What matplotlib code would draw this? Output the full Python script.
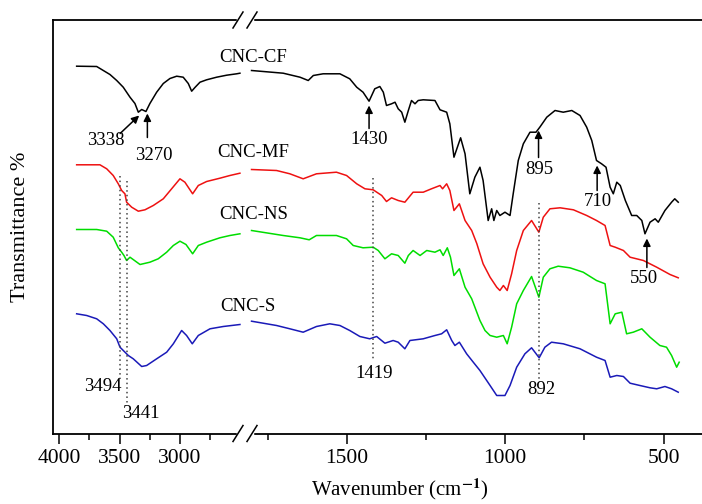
import numpy as np
import matplotlib
matplotlib.use('Agg')
import matplotlib.pyplot as plt

plt.rcParams['font.family'] = ['Liberation Serif', 'DejaVu Serif']
plt.rcParams['mathtext.fontset'] = 'stix'

# ---- spectra (wavenumber, offset transmittance in arbitrary units) ----
cf_wn_hi = [3856, 3690, 3635, 3580, 3524, 3470, 3414, 3373, 3345, 3317, 3282, 3249, 3193,
            3138, 3083, 3027, 2973, 2931, 2903, 2876, 2834, 2779, 2696, 2613, 2530, 2503]
cf_t_hi = [367.3, 367, 363, 359, 353, 346.3, 336.3, 330, 321.3, 324, 322, 330, 341.3,
           350, 355, 357.3, 356.3, 350, 342.3, 346, 351.3, 353.7, 356.3, 358.3, 359.7, 360.3]
cf_wn_lo = [1801, 1701, 1648, 1622, 1606, 1575, 1522, 1491, 1469, 1449, 1430, 1412, 1396,
            1385, 1375, 1359, 1348, 1338, 1327, 1317, 1306, 1296, 1285, 1275, 1259, 1222,
            1206, 1185, 1175, 1162, 1141, 1127, 1112, 1096, 1080, 1070, 1054, 1043, 1036,
            1027, 1017, 1001, 985, 975, 959, 943, 922, 903, 891, 869, 843, 817, 790, 764,
            743, 727, 712, 696, 682, 669, 659, 648, 637, 621, 601, 585, 569, 559, 543, 527,
            517, 496, 475, 465, 454]
cf_t_lo = [363, 360.3, 356.3, 353, 358, 359.7, 359.7, 354.7, 346.3, 341.3, 332.3, 344.7, 347,
           341.3, 328, 329.7, 331.3, 324.7, 321.3, 311.3, 323, 333, 329.7, 333, 333.7, 333,
           323.7, 321.3, 309.7, 276.3, 295.7, 279.7, 239.7, 256.3, 266.3, 253, 213, 224.7, 213,
           223, 218, 221.3, 218, 239.7, 273, 289.7, 301.3, 301.3, 306.3, 316.3, 323, 321.3, 323, 318,
           306.3, 293, 273, 269.7, 266.3, 246.3, 239.7, 251.3, 248, 233, 218, 218, 213, 199.7, 211.3, 214.7,
           211.3, 223, 231.3, 234.7, 231.3]

mf_wn_hi = [3856, 3663, 3607, 3553, 3511, 3483, 3456, 3442, 3400, 3345, 3290, 3221, 3138,
            3069, 3000, 2959, 2895, 2848, 2779, 2669, 2586, 2503]
mf_t_hi = [268.7, 268.7, 264.7, 258, 249.7, 243, 239.7, 231.3, 226.3, 222.3, 223.7, 228, 234.7,
           244.7, 254.7, 251.3, 239.7, 248, 252, 255.3, 258, 260.3]
mf_wn_lo = [1801, 1722, 1680, 1638, 1596, 1533, 1501, 1469, 1443, 1417, 1390, 1375, 1359, 1338,
            1317, 1291, 1259, 1233, 1206, 1198, 1185, 1175, 1162, 1145, 1127, 1106, 1090, 1070,
            1048, 1027, 1017, 1006, 994, 980, 964, 943, 917, 894, 880, 859, 827, 785, 743, 712,
            685, 669, 653, 627, 606, 564, 522, 480, 454]
mf_t_lo = [264, 263, 259.7, 254.7, 259.7, 261.3, 258, 249.7, 244.7, 243.7, 238, 232, 235.7, 233,
           231.3, 241.3, 241.3, 244.7, 248, 244.7, 249.7, 243, 223, 229.7, 213, 203, 190, 169.7,
           156.3, 146.3, 143, 148, 143, 159.7, 183, 203, 213, 201.3, 216.3, 224.7, 225.7, 223.7, 218, 213,
           208, 188, 186.3, 183, 176.3, 173, 166.3, 159, 155.7]

ns_wn_hi = [3856, 3690, 3607, 3553, 3511, 3483, 3464, 3442, 3414, 3331, 3249, 3180, 3110,
            3055, 3000, 2950, 2895, 2848, 2779, 2669, 2586, 2503]
ns_t_hi = [204, 204, 202.3, 196.3, 185.7, 181.3, 178, 173, 176.3, 169, 171.3, 174.7, 181.3,
           188, 192.3, 189, 179.7, 188, 191.3, 195.7, 198, 199.7]
ns_wn_lo = [1801, 1701, 1648, 1619, 1596, 1533, 1501, 1480, 1449, 1417, 1401, 1380, 1359, 1338,
            1317, 1306, 1291, 1269, 1248, 1222, 1206, 1196, 1183, 1173, 1162, 1145, 1127, 1106,
            1080, 1064, 1048, 1027, 1006, 994, 980, 964, 943, 917, 894, 880, 859, 833, 796, 754,
            712, 685, 669, 653, 632, 617, 596, 569, 543, 512, 491, 475, 459, 451]
ns_t_lo = [203, 198, 195.7, 193.7, 198, 198, 194.7, 188, 185.7, 186.3, 183, 174.7, 179.7, 178,
           170.3, 178, 183, 178, 183, 181.3, 183.7, 178, 185.7, 176.3, 158, 164.7, 146.3, 134.7,
           113, 103, 98, 96.3, 98, 89.7, 106.3, 129.7, 143, 157, 136.3, 156.3, 164.7, 167.3, 165.7, 161.3,
           153, 149.7, 109.7, 119.7, 121.3, 99.7, 101.3, 104.7, 96.3, 88, 86.3, 78, 66.3, 71.3]

s_wn_hi = [3856, 3773, 3690, 3635, 3580, 3524, 3497, 3428, 3387, 3317, 3276, 3193, 3110,
           3055, 2986, 2945, 2898, 2848, 2751, 2641, 2503]
s_t_hi = [119.7, 118, 114.7, 109.7, 103, 94.7, 86.3, 78, 74.7, 67, 68, 74.7, 81.3,
          89.7, 103, 98, 89.7, 98, 104.7, 107, 109]
s_wn_lo = [1801, 1722, 1680, 1638, 1596, 1554, 1522, 1491, 1459, 1428, 1406, 1380, 1354, 1338,
           1317, 1301, 1259, 1222, 1201, 1185, 1169, 1159, 1145, 1122, 1101, 1080, 1048, 1027,
           1001, 985, 964, 938, 917, 893, 875, 854, 817, 764, 712, 685, 669, 648, 627, 606,
           575, 543, 522, 496, 475, 454]
s_t_lo = [112.3, 108, 104.7, 101.3, 107, 109.7, 108, 103, 97, 94.7, 97, 90.3, 93, 91.3,
          84.7, 93, 94.7, 98, 99.7, 103.7, 93, 88, 91.3, 79.7, 71.3, 63, 48, 38,
          38, 48, 66.3, 79.7, 85.7, 75.7, 86.3, 91.3, 89.7, 84.7, 76.3, 73, 56.3, 58, 57, 50.3,
          48, 45.7, 44.7, 47, 44.7, 41.3]

names = ['CNC-CF', 'CNC-MF', 'CNC-NS', 'CNC-S']
colors = ['black', '#ee1111', '#00dd00', '#1a1ab8']

# x-axis with a break: 4052..2461 and 1809..379, different px/unit on each side
brk_wn = [379, 1809, 2461, 4052]
brk_u = [-649, -196, -192, 0]


def fwd(x):
    return np.interp(x, brk_wn, brk_u)


def inv(u):
    return np.interp(u, brk_u, brk_wn)


fig = plt.figure(figsize=(7.02, 5.04), dpi=100)
ax = fig.add_axes([53 / 702, 1 - 433.5 / 504, 649 / 702, 413.5 / 504])
ax.set_xscale('function', functions=(fwd, inv))
ax.set_xlim(4052, 379)
ax.set_ylim(0, 413.5)

series = [(cf_wn_hi, cf_t_hi, cf_wn_lo, cf_t_lo),
          (mf_wn_hi, mf_t_hi, mf_wn_lo, mf_t_lo),
          (ns_wn_hi, ns_t_hi, ns_wn_lo, ns_t_lo),
          (s_wn_hi, s_t_hi, s_wn_lo, s_t_lo)]
for (wh, th, wl, tl), c in zip(series, colors):
    ax.plot(wh, th, color=c, lw=1.1)
    ax.plot(wl, tl, color=c, lw=1.1)

# sample names
name_pos = [(1797, 376), (1797, 281), (1794, 219), (1960, 127)]
for n, (x, y) in zip(names, name_pos):
    ax.text(x, y, n, ha='center', va='center', fontsize=13.5)

# arrows marking peaks of CNC-CF: label, text x, text y, arrow tail x, tail y, tip y
arrows = [(3338, 3613, 293, 3496, 300, 318),
          (3270, 3215, 278, 3270, 296, 320),
          (1430, 1430, 294, 1430, 305, 328),
          (895, 891, 264, 895, 276, 303),
          (710, 707, 232, 710, 243, 268),
          (550, 562, 155, 553, 166, 195)]
for lab, tx, ty, ax0, ay0, ay1 in arrows:
    ax.text(tx, ty, str(lab), ha='center', va='center', fontsize=13.5)
    tip_x = 3338 if lab == 3338 else ax0
    ax.annotate('', xy=(tip_x, ay1), xytext=(ax0, ay0),
                arrowprops=dict(arrowstyle='-|>', color='k', lw=1.1, mutation_scale=11,
                                shrinkA=0, shrinkB=0))

# dotted guide lines
guides = [(3494, 258, 55, 3642, 47),
          (3441, 253, 31, 3323, 20.5),
          (1419, 256, 73, 1415, 60.5),
          (892, 231, 55, 885, 43.5)]
for wn, y0, y1, tx, ty in guides:
    ax.plot([wn, wn], [y0, y1], ls=(0, (1, 2)), color='#444444', lw=1.1)
    ax.text(tx, ty, str(wn), ha='center', va='center', fontsize=13.5)

ax.set_xticks([4000, 3500, 3000, 1500, 1000, 500])
ax.set_xticks([3750, 3250, 2750, 1750, 1250, 750], minor=True)
ax.set_yticks([])
ax.tick_params(axis='x', which='major', direction='out', length=7, width=1.1,
               labelsize=15.5, pad=4)
ax.tick_params(axis='x', which='minor', direction='out', length=4, width=1.1)
for s in ['left', 'top', 'bottom']:
    ax.spines[s].set_linewidth(1.3)
ax.spines['right'].set_visible(False)

# break marks on top and bottom spines
for yb in [1.0, 0.0]:
    ax.plot([(238 - 53) / 649, (252 - 53) / 649], [yb, yb], color='white', lw=2.5,
            transform=ax.transAxes, clip_on=False, zorder=5)
    for x0 in [233, 247]:
        ax.plot([(x0 - 53) / 649, (x0 + 10 - 53) / 649], [yb - 8 / 413.5, yb + 8 / 413.5],
                color='black', lw=1.1, transform=ax.transAxes, clip_on=False, zorder=6)

fig.text(400 / 702, 1 - 489 / 504, 'Wavenumber (cm$^{\\mathbf{-1}}$)', ha='center', va='center',
         fontsize=15)
fig.text(21 / 702, 1 - 227 / 504, 'Transmittance %', rotation=90, ha='center', va='center',
         fontsize=16)

fig.savefig('out.png', dpi=100)
